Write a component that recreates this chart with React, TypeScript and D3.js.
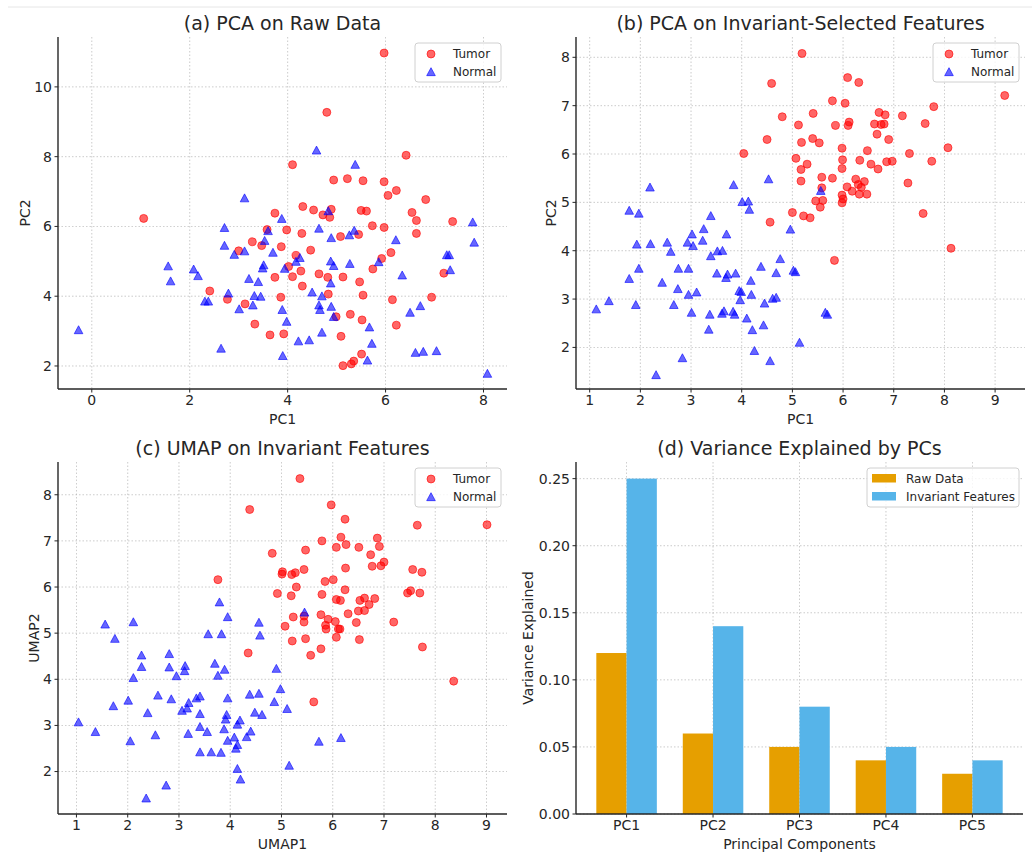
import React from 'react';
import * as d3 from 'd3';

// (a) PCA on raw data
const rawTumor: [number, number][] = [
  [5.97, 10.97], [4.8, 9.27], [6.42, 8.04], [4.1, 7.77], [4.94, 7.33], [5.22, 7.37], [5.54, 7.31], [5.97, 7.28],
  [6.05, 6.89], [6.22, 7.03], [6.82, 6.77], [4.31, 6.57], [4.53, 6.47], [4.89, 6.49], [4.72, 6.33], [4.86, 6.26],
  [5.5, 6.46], [5.61, 6.44], [3.74, 6.38], [6.54, 6.4], [6.63, 6.17], [7.37, 6.14], [5.73, 6.02], [5.97, 5.97],
  [1.06, 6.23], [3.58, 5.91], [3.98, 5.9], [4.29, 5.8], [6.63, 5.8], [5.08, 5.71], [5.45, 5.77], [3.28, 5.56],
  [3.47, 5.45], [3.87, 5.42], [3.0, 5.3], [4.47, 5.32], [4.17, 5.17], [6.11, 5.25], [5.92, 5.08], [4.02, 4.85],
  [5.74, 4.78], [4.27, 4.72], [7.19, 4.66], [4.64, 4.64], [3.74, 4.54], [4.1, 4.56], [4.82, 4.54], [5.13, 4.55],
  [5.47, 4.41], [4.3, 4.29], [2.41, 4.15], [4.83, 4.06], [5.54, 4.03], [3.86, 3.97], [6.94, 3.97], [2.77, 3.91],
  [6.14, 3.9], [3.13, 3.78], [4.99, 3.41], [5.28, 3.48], [5.52, 3.32], [3.33, 3.2], [6.22, 3.17], [3.64, 2.89],
  [3.92, 2.92], [5.09, 2.85], [5.51, 2.34], [5.35, 2.14], [5.3, 2.06], [5.13, 2.01],
];
const rawNormal: [number, number][] = [
  [-0.27, 3.03], [4.59, 8.18], [5.38, 7.77], [3.12, 6.81], [4.83, 6.44], [3.88, 6.22], [2.71, 5.96], [4.64, 5.94],
  [5.36, 5.88], [3.6, 5.87], [7.78, 6.12], [4.89, 5.67], [5.26, 5.75], [6.21, 5.61], [3.53, 5.59], [7.81, 5.54],
  [2.71, 5.45], [3.7, 5.25], [3.12, 5.29], [2.91, 5.19], [7.25, 5.18], [7.3, 5.18], [4.25, 5.1], [4.17, 4.99],
  [4.88, 5.0], [5.27, 4.93], [5.86, 4.98], [4.94, 4.87], [3.51, 4.89], [1.56, 4.86], [3.49, 4.8], [3.94, 4.79],
  [2.08, 4.77], [2.17, 4.58], [7.32, 4.75], [6.34, 4.6], [3.21, 4.5], [1.61, 4.43], [3.4, 4.41], [4.88, 4.37],
  [4.5, 4.11], [2.79, 4.08], [4.7, 4.0], [3.32, 4.01], [3.45, 3.99], [2.31, 3.85], [2.38, 3.85], [4.64, 3.74],
  [4.89, 3.7], [3.29, 3.74], [6.71, 3.72], [3.01, 3.63], [4.66, 3.61], [3.89, 3.61], [6.5, 3.53], [4.94, 3.41],
  [3.98, 3.27], [5.67, 3.11], [4.7, 2.96], [4.22, 2.71], [4.44, 2.74], [5.72, 2.64], [2.64, 2.5], [6.61, 2.38],
  [6.77, 2.41], [7.04, 2.43], [3.9, 2.29], [5.63, 2.16], [8.08, 1.78],
];

// (b) PCA on invariant-selected features
const invTumor: [number, number][] = [
  [5.19, 8.08], [4.59, 7.46], [6.09, 7.58], [6.31, 7.48], [9.19, 7.21], [5.79, 7.1], [6.04, 7.05], [7.79, 6.98],
  [4.8, 6.77], [5.41, 6.84], [6.71, 6.86], [6.83, 6.81], [7.17, 6.79], [5.12, 6.6], [5.85, 6.59], [6.12, 6.66],
  [6.1, 6.59], [6.62, 6.62], [6.75, 6.61], [6.81, 6.62], [7.62, 6.63], [6.67, 6.41], [4.5, 6.3], [5.4, 6.32],
  [6.9, 6.3], [5.18, 6.24], [5.53, 6.23], [5.98, 6.12], [8.07, 6.13], [4.04, 6.01], [6.48, 6.07], [7.31, 6.01],
  [5.07, 5.91], [5.99, 5.88], [6.33, 5.87], [5.29, 5.79], [6.55, 5.79], [6.86, 5.84], [6.97, 5.85], [7.75, 5.85],
  [5.17, 5.68], [5.98, 5.7], [6.69, 5.69], [5.58, 5.52], [5.79, 5.5], [6.25, 5.48], [5.17, 5.44], [6.42, 5.43],
  [7.28, 5.4], [6.3, 5.37], [6.08, 5.32], [6.36, 5.31], [5.58, 5.3], [6.18, 5.23], [6.32, 5.17], [6.47, 5.17],
  [5.98, 5.15], [6.0, 5.07], [5.46, 5.03], [5.6, 5.04], [5.98, 4.99], [5.55, 4.9], [5.0, 4.79], [7.58, 4.77],
  [5.22, 4.72], [5.35, 4.68], [4.56, 4.59], [8.13, 4.05], [5.83, 3.8],
];
const invNormal: [number, number][] = [
  [2.19, 5.31], [3.84, 5.36], [4.53, 5.48], [5.56, 5.24], [1.78, 4.83], [1.97, 4.77], [4.01, 5.01], [4.13, 5.02],
  [4.15, 4.85], [3.39, 4.72], [3.25, 4.45], [4.96, 4.44], [3.02, 4.34], [3.7, 4.34], [1.93, 4.13], [2.2, 4.14],
  [2.53, 4.17], [2.93, 4.17], [3.23, 4.21], [3.04, 4.1], [2.6, 3.98], [3.52, 3.99], [3.62, 4.0], [3.39, 3.89],
  [4.76, 3.83], [1.97, 3.63], [2.75, 3.63], [2.95, 3.63], [4.38, 3.67], [1.78, 3.42], [2.43, 3.34], [3.51, 3.53],
  [3.72, 3.51], [3.69, 3.44], [3.88, 3.53], [4.68, 3.54], [4.18, 3.38], [5.02, 3.59], [5.06, 3.56], [2.74, 3.21],
  [3.11, 3.14], [2.95, 3.09], [3.95, 3.17], [3.99, 3.15], [4.19, 3.09], [3.97, 2.98], [4.61, 3.01], [4.68, 3.03],
  [1.38, 2.96], [4.45, 2.91], [1.13, 2.79], [1.91, 2.88], [2.66, 2.88], [3.01, 2.72], [3.37, 2.68], [3.61, 2.7],
  [3.65, 2.75], [3.83, 2.74], [3.86, 2.68], [5.65, 2.72], [5.69, 2.68], [4.1, 2.6], [4.43, 2.46], [3.35, 2.37],
  [4.21, 2.36], [5.14, 2.1], [4.25, 1.93], [2.83, 1.78], [4.56, 1.72], [2.31, 1.43],
];

// (c) UMAP on invariant features
const umapTumor: [number, number][] = [
  [5.36, 8.35], [4.38, 7.68], [5.97, 7.78], [6.24, 7.47], [7.65, 7.34], [9.01, 7.35], [5.79, 7.0], [6.16, 7.08],
  [6.87, 7.06], [6.07, 6.86], [6.26, 6.92], [6.51, 6.86], [6.91, 6.88], [5.47, 6.8], [4.82, 6.73], [6.74, 6.7],
  [7.0, 6.54], [6.77, 6.45], [6.94, 6.46], [6.25, 6.41], [5.44, 6.38], [5.02, 6.33], [5.01, 6.28], [5.27, 6.31],
  [5.2, 6.27], [7.56, 6.38], [7.74, 6.32], [3.76, 6.16], [6.01, 6.16], [5.85, 6.12], [5.29, 6.0], [6.24, 5.94],
  [4.92, 5.86], [5.19, 5.81], [5.79, 5.84], [7.46, 5.87], [7.52, 5.92], [7.7, 5.87], [6.07, 5.73], [6.15, 5.71],
  [6.53, 5.71], [6.62, 5.76], [6.82, 5.75], [6.71, 5.62], [6.62, 5.49], [6.5, 5.48], [6.3, 5.42], [5.23, 5.35],
  [5.77, 5.4], [5.44, 5.37], [5.91, 5.3], [5.44, 5.24], [6.05, 5.25], [6.46, 5.23], [7.19, 5.24], [5.07, 5.15],
  [5.86, 5.17], [5.87, 5.09], [6.11, 5.09], [6.14, 5.09], [5.21, 4.83], [5.47, 4.88], [6.07, 4.91], [6.52, 4.86],
  [7.75, 4.7], [5.77, 4.66], [4.35, 4.57], [5.57, 4.52], [8.36, 3.96], [5.63, 3.51],
];
const umapNormal: [number, number][] = [
  [5.45, 5.45], [3.79, 5.67], [3.95, 5.35], [1.56, 5.19], [2.11, 5.24], [4.56, 5.23], [1.75, 4.88], [3.57, 4.98],
  [3.83, 4.98], [4.58, 4.95], [2.27, 4.52], [2.81, 4.55], [3.7, 4.34], [2.27, 4.27], [2.81, 4.26], [3.12, 4.29],
  [3.11, 4.18], [3.89, 4.21], [4.9, 4.23], [2.11, 4.03], [2.95, 4.07], [3.76, 4.08], [4.98, 3.79], [2.59, 3.65],
  [2.01, 3.54], [2.85, 3.57], [3.34, 3.59], [3.41, 3.63], [3.95, 3.59], [4.38, 3.67], [4.56, 3.69], [3.19, 3.49],
  [1.72, 3.42], [4.86, 3.51], [3.16, 3.37], [3.06, 3.32], [5.11, 3.36], [2.39, 3.27], [3.41, 3.25], [4.48, 3.28],
  [4.62, 3.23], [3.93, 3.23], [3.91, 3.13], [4.19, 3.11], [4.14, 3.02], [1.04, 3.07], [3.41, 2.97], [3.88, 2.92],
  [1.37, 2.86], [3.55, 2.86], [3.18, 2.82], [4.4, 2.87], [2.54, 2.79], [4.32, 2.75], [4.08, 2.74], [6.16, 2.73],
  [2.05, 2.66], [3.95, 2.67], [5.73, 2.65], [4.14, 2.58], [4.11, 2.5], [3.41, 2.42], [3.63, 2.42], [3.82, 2.41],
  [5.15, 2.13], [4.14, 2.06], [4.2, 1.83], [2.75, 1.7], [2.36, 1.42],
];

// (d) variance explained
const components = ['PC1', 'PC2', 'PC3', 'PC4', 'PC5'];
const rawVariance = [0.12, 0.06, 0.05, 0.04, 0.03];
const invVariance = [0.25, 0.14, 0.08, 0.05, 0.04];
const varianceTicks = [0, 0.05, 0.1, 0.15, 0.2, 0.25];

const FONT = '"DejaVu Sans", sans-serif';
const INK = '#262626';
const GRID = '#b0b0b0';
const ORANGE = '#E69F00';
const SKY = '#56B4E9';

type Box = { left: number; right: number; top: number; bottom: number };

const Triangle = ({ cx, cy, r = 4.3 }: { cx: number; cy: number; r?: number }) => (
  <path
    d={`M${cx},${cy - r}L${cx + r},${cy + r * 0.85}L${cx - r},${cy + r * 0.85}Z`}
    fill="blue" fillOpacity={0.6} stroke="blue" strokeOpacity={0.6} strokeWidth={1}
  />
);

const Frame = ({ box, title, xLabel, yLabel, yLabelOff }: { box: Box; title: string; xLabel: string; yLabel: string; yLabelOff: number }) => {
  const cx = (box.left + box.right) / 2;
  const cy = (box.top + box.bottom) / 2;
  return (
    <g fontFamily={FONT} fill={INK}>
      <line x1={box.left} x2={box.left} y1={box.top} y2={box.bottom} stroke={INK} strokeWidth={1.4} />
      <line x1={box.left} x2={box.right} y1={box.bottom} y2={box.bottom} stroke={INK} strokeWidth={1.4} />
      <text x={cx} y={box.top - 7} textAnchor="middle" fontSize={19}>{title}</text>
      <text x={cx} y={box.bottom + 35} textAnchor="middle" fontSize={14}>{xLabel}</text>
      <text transform={`translate(${box.left - yLabelOff},${cy}) rotate(-90)`} textAnchor="middle" fontSize={14}>{yLabel}</text>
    </g>
  );
};

const Axes = ({ box, xs, ys }: { box: Box; xs: { v: string; p: number }[]; ys: { v: string; p: number }[] }) => (
  <g fontFamily={FONT} fontSize={14} fill={INK}>
    {xs.map((t, i) => (
      <g key={'x' + i}>
        <line x1={t.p} x2={t.p} y1={box.top} y2={box.bottom} stroke={GRID} strokeDasharray="1.5,2" strokeWidth={0.8} opacity={0.8} />
        <line x1={t.p} x2={t.p} y1={box.bottom} y2={box.bottom + 3.5} stroke={INK} strokeWidth={1} />
        <text x={t.p} y={box.bottom + 16} textAnchor="middle">{t.v}</text>
      </g>
    ))}
    {ys.map((t, i) => (
      <g key={'y' + i}>
        <line x1={box.left} x2={box.right} y1={t.p} y2={t.p} stroke={GRID} strokeDasharray="1.5,2" strokeWidth={0.8} opacity={0.8} />
        <line x1={box.left - 3.5} x2={box.left} y1={t.p} y2={t.p} stroke={INK} strokeWidth={1} />
        <text x={box.left - 6} y={t.p} dy="0.35em" textAnchor="end">{t.v}</text>
      </g>
    ))}
  </g>
);

const ScatterLegend = ({ box }: { box: Box }) => {
  const lx = box.right - 92;
  const ly = box.top + 6;
  return (
    <g fontFamily={FONT} fontSize={12} fill={INK}>
      <rect x={lx} y={ly} width={86} height={39} rx={3} fill="white" fillOpacity={0.8} stroke="#d0d0d0" />
      <circle cx={lx + 16} cy={ly + 11} r={4} fill="red" fillOpacity={0.6} stroke="red" strokeOpacity={0.6} />
      <text x={lx + 38} y={ly + 15}>Tumor</text>
      <Triangle cx={lx + 16} cy={ly + 29} />
      <text x={lx + 38} y={ly + 33}>Normal</text>
    </g>
  );
};

const ScatterPanel = ({ box, xDomain, yDomain, xTicks, yTicks, tumor, normal, title, xLabel, yLabel, yLabelOff }: {
  box: Box; xDomain: [number, number]; yDomain: [number, number]; xTicks: number[]; yTicks: number[];
  tumor: [number, number][]; normal: [number, number][]; title: string; xLabel: string; yLabel: string; yLabelOff: number;
}) => {
  const x = d3.scaleLinear().domain(xDomain).range([box.left, box.right]);
  const y = d3.scaleLinear().domain(yDomain).range([box.bottom, box.top]);
  return (
    <g>
      <Axes box={box}
        xs={xTicks.map(v => ({ v: String(v), p: x(v) }))}
        ys={yTicks.map(v => ({ v: String(v), p: y(v) }))} />
      {tumor.map((d, i) => (
        <circle key={'t' + i} cx={x(d[0])} cy={y(d[1])} r={4} fill="red" fillOpacity={0.6} stroke="red" strokeOpacity={0.6} strokeWidth={1} />
      ))}
      {normal.map((d, i) => <Triangle key={'n' + i} cx={x(d[0])} cy={y(d[1])} />)}
      <Frame box={box} title={title} xLabel={xLabel} yLabel={yLabel} yLabelOff={yLabelOff} />
      <ScatterLegend box={box} />
    </g>
  );
};

const BarPanel = ({ box }: { box: Box }) => {
  const x = d3.scaleLinear().domain([-0.585, 4.585]).range([box.left, box.right]);
  const y = d3.scaleLinear().domain([0, 0.2624]).range([box.bottom, box.top]);
  const w = 0.35;
  const lx = box.right - 156;
  const ly = box.top + 6;
  return (
    <g>
      <Axes box={box}
        xs={components.map((c, i) => ({ v: c, p: x(i) }))}
        ys={varianceTicks.map(v => ({ v: d3.format('.2f')(v), p: y(v) }))} />
      {rawVariance.map((v, i) => (
        <rect key={'r' + i} x={x(i - w)} width={x(i) - x(i - w)} y={y(v)} height={y(0) - y(v)} fill={ORANGE} />
      ))}
      {invVariance.map((v, i) => (
        <rect key={'v' + i} x={x(i)} width={x(i + w) - x(i)} y={y(v)} height={y(0) - y(v)} fill={SKY} />
      ))}
      <Frame box={box} title="(d) Variance Explained by PCs" xLabel="Principal Components" yLabel="Variance Explained" yLabelOff={43} />
      <g fontFamily={FONT} fontSize={12} fill={INK}>
        <rect x={lx} y={ly} width={152} height={39} rx={3} fill="white" fillOpacity={0.8} stroke="#d0d0d0" />
        <rect x={lx + 5} y={ly + 6} width={24} height={8.5} fill={ORANGE} />
        <text x={lx + 39} y={ly + 14.5}>Raw Data</text>
        <rect x={lx + 5} y={ly + 24} width={24} height={8.5} fill={SKY} />
        <text x={lx + 39} y={ly + 32.5}>Invariant Features</text>
      </g>
    </g>
  );
};

export default function App() {
  return (
    <svg width={1032} height={852} style={{ position: 'absolute', left: 0, top: 0, background: 'white' }}>
      <rect width={1032} height={852} fill="white" />
      <line x1={8} x2={1032} y1={7} y2={7} stroke="#e6e6e6" />
      <ScatterPanel box={{ left: 58, right: 507, top: 37, bottom: 389 }}
        xDomain={[-0.69, 8.48]} yDomain={[1.34, 11.43]} xTicks={[0, 2, 4, 6, 8]} yTicks={[2, 4, 6, 8, 10]}
        tumor={rawTumor} normal={rawNormal} title="(a) PCA on Raw Data" xLabel="PC1" yLabel="PC2" yLabelOff={28} />
      <ScatterPanel box={{ left: 576, right: 1025, top: 37, bottom: 389 }}
        xDomain={[0.73, 9.59]} yDomain={[1.14, 8.42]} xTicks={[1, 2, 3, 4, 5, 6, 7, 8, 9]} yTicks={[2, 3, 4, 5, 6, 7, 8]}
        tumor={invTumor} normal={invNormal} title="(b) PCA on Invariant-Selected Features" xLabel="PC1" yLabel="PC2" yLabelOff={20} />
      <ScatterPanel box={{ left: 58, right: 507, top: 462, bottom: 814 }}
        xDomain={[0.64, 9.4]} yDomain={[1.08, 8.71]} xTicks={[1, 2, 3, 4, 5, 6, 7, 8, 9]} yTicks={[2, 3, 4, 5, 6, 7, 8]}
        tumor={umapTumor} normal={umapNormal} title="(c) UMAP on Invariant Features" xLabel="UMAP1" yLabel="UMAP2" yLabelOff={19} />
      <BarPanel box={{ left: 576, right: 1023, top: 462, bottom: 814 }} />
    </svg>
  );
}
